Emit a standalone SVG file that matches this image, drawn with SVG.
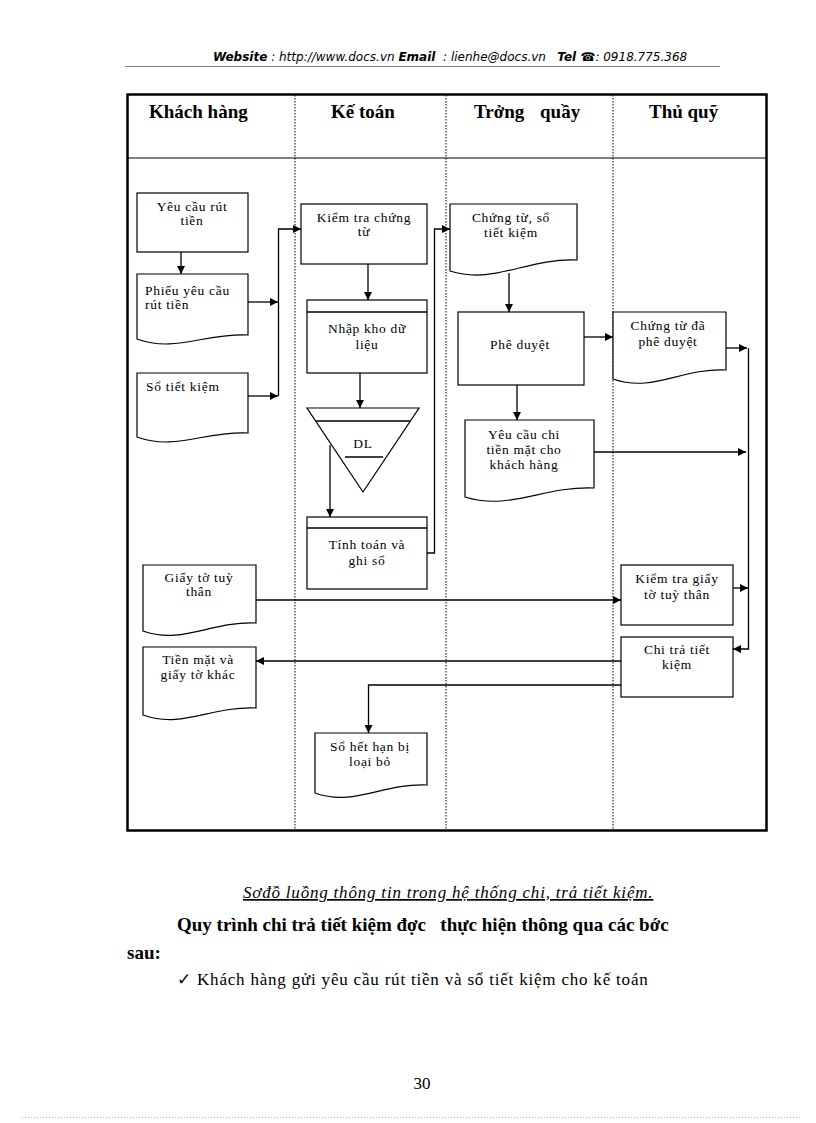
<svg xmlns="http://www.w3.org/2000/svg" width="816" height="1123" viewBox="0 0 816 1123">
<defs>
<marker id="ah" viewBox="0 0 10 10" refX="10" refY="5" markerWidth="8" markerHeight="8" markerUnits="userSpaceOnUse" orient="auto">
<path d="M0,0 L10,5 L0,10 Z" fill="#000"/>
</marker>
<style>
.bx{fill:#fff;stroke:#000;stroke-width:1.2}
.ln{fill:none;stroke:#000;stroke-width:1.3}
.t{font-family:"Liberation Serif","DejaVu Serif",serif;font-size:13.5px;letter-spacing:0.7px;fill:#000;text-anchor:middle}
.tl{font-family:"Liberation Serif","DejaVu Serif",serif;font-size:13.5px;letter-spacing:0.7px;fill:#000}
.hd{font-family:"Liberation Serif","DejaVu Serif",serif;font-size:19px;font-weight:bold;fill:#000}
.lane{stroke:#000;stroke-width:1;stroke-dasharray:1.5,1.5}
</style>
</defs>
<rect width="816" height="1123" fill="#fff"/>

<!-- page header -->
<g id="page-header">
<text x="213" y="61" font-family="'DejaVu Sans','Liberation Sans',sans-serif" font-size="12" font-style="italic" fill="#000" xml:space="preserve"><tspan font-weight="bold">Website</tspan> : http://www.docs.vn <tspan font-weight="bold">Email</tspan>  : lienhe@docs.vn   <tspan font-weight="bold">Tel </tspan><tspan font-weight="bold" font-style="normal">☎</tspan>: 0918.775.368</text>
<line x1="125" y1="66.5" x2="720" y2="66.5" stroke="#888" stroke-width="1"/>
</g>

<!-- frame and lanes -->
<g id="frame">
<rect x="127.5" y="94.5" width="639" height="736" fill="none" stroke="#000" stroke-width="2.5"/>
<line x1="127" y1="158" x2="767" y2="158" stroke="#000" stroke-width="1"/>
<line class="lane" x1="295" y1="95" x2="295" y2="830"/>
<line class="lane" x1="446" y1="95" x2="446" y2="830"/>
<line class="lane" x1="613" y1="95" x2="613" y2="830"/>
<text class="hd" x="149" y="118">Khách hàng</text>
<text class="hd" x="331" y="118">Kế toán</text>
<text class="hd" x="474" y="118">Trởng</text>
<text class="hd" x="540" y="118">quầy</text>
<text class="hd" x="649" y="118">Thủ quỹ</text>
</g>

<!-- connectors -->
<g id="connectors">
<line class="ln" x1="181" y1="252" x2="181" y2="274" marker-end="url(#ah)"/>
<line class="ln" x1="248" y1="302" x2="278" y2="302" marker-end="url(#ah)"/>
<line class="ln" x1="248" y1="396" x2="278" y2="396" marker-end="url(#ah)"/>
<polyline class="ln" points="278.5,396 278.5,229 301,229" marker-end="url(#ah)"/>
<line class="ln" x1="368" y1="264" x2="368" y2="300" marker-end="url(#ah)"/>
<line class="ln" x1="360" y1="373" x2="360" y2="408" marker-end="url(#ah)"/>
<line class="ln" x1="330" y1="445" x2="330" y2="517" marker-end="url(#ah)"/>
<polyline class="ln" points="427,553 434.5,553 434.5,229 450,229" marker-end="url(#ah)"/>
<line class="ln" x1="509" y1="273" x2="509" y2="312" marker-end="url(#ah)"/>
<line class="ln" x1="584" y1="337" x2="613" y2="337" marker-end="url(#ah)"/>
<line class="ln" x1="517" y1="385" x2="517" y2="420" marker-end="url(#ah)"/>
<line class="ln" x1="594" y1="452" x2="746" y2="452" marker-end="url(#ah)"/>
<line class="ln" x1="726" y1="348" x2="747" y2="348" marker-end="url(#ah)"/>
<polyline class="ln" points="748.5,348 748.5,649 733,649" marker-end="url(#ah)"/>
<line class="ln" x1="733" y1="588" x2="748" y2="588" marker-end="url(#ah)"/>
<line class="ln" x1="256" y1="600" x2="621" y2="600" marker-end="url(#ah)"/>
<line class="ln" x1="621" y1="661" x2="256" y2="661" marker-end="url(#ah)"/>
<polyline class="ln" points="621,685 368.5,685 368.5,733" marker-end="url(#ah)"/>
</g>

<!-- Khách hàng lane -->
<g id="n-yeucau">
<rect class="bx" x="137" y="193" width="111" height="59"/>
<text class="t" x="192" y="211">Yêu cầu rút</text>
<text class="t" x="192" y="225">tiền</text>
</g>
<g id="n-phieu">
<path class="bx" d="M137,274 H248 V335 C203.6,333 175.9,353 137,339 Z"/>
<text class="tl" x="145" y="295">Phiếu yêu cầu</text>
<text class="tl" x="145" y="309">rút tiền</text>
</g>
<g id="n-sotietkiem">
<path class="bx" d="M137,373 H248 V433 C203.6,431 175.9,451 137,437 Z"/>
<text class="tl" x="146" y="391">Sổ tiết kiệm</text>
</g>
<g id="n-giayto">
<path class="bx" d="M143,565 H256 V623 C210.8,621 182.6,645 143,631 Z"/>
<text class="t" x="199" y="582">Giấy tờ tuỳ</text>
<text class="t" x="199" y="596">thân</text>
</g>
<g id="n-tienmat">
<path class="bx" d="M143,647 H256 V708 C210.8,706 182.6,729 143,715 Z"/>
<text class="t" x="198" y="664">Tiền mặt và</text>
<text class="t" x="198" y="679">giấy tờ khác</text>
</g>

<!-- Kế toán lane -->
<g id="n-kiemtra">
<rect class="bx" x="301" y="204" width="126" height="60"/>
<text class="t" x="364" y="222">Kiểm tra chứng</text>
<text class="t" x="364" y="236">từ</text>
</g>
<g id="n-nhapkho">
<rect class="bx" x="307" y="300" width="120" height="73"/>
<line class="ln" x1="307" y1="312" x2="427" y2="312" stroke-width="1"/>
<text class="t" x="367" y="333">Nhập kho dữ</text>
<text class="t" x="367" y="349">liệu</text>
</g>
<g id="n-dl">
<path class="bx" d="M307,408 H419 L363,492 Z"/>
<line class="ln" x1="315.7" y1="421" x2="410.3" y2="421" stroke-width="1"/>
<text class="t" x="363" y="448">DL</text>
<line class="ln" x1="345" y1="457" x2="383" y2="457" stroke-width="1"/>
</g>
<g id="n-tinhtoan">
<rect class="bx" x="307" y="517" width="120" height="72"/>
<line class="ln" x1="307" y1="528" x2="427" y2="528" stroke-width="1"/>
<text class="t" x="367" y="549">Tính toán và</text>
<text class="t" x="367" y="565">ghi sổ</text>
</g>
<g id="n-sohethan">
<path class="bx" d="M315,733 H427 V785 C382.2,783 354.2,807 315,793 Z"/>
<text class="t" x="370" y="751">Sổ hết hạn bị</text>
<text class="t" x="370" y="766">loại bỏ</text>
</g>

<!-- Trởng quầy lane -->
<g id="n-chungtu">
<path class="bx" d="M450,204 H577 V260 C526.2,258 494.5,285 450,271 Z"/>
<text class="t" x="511" y="222">Chứng từ, sổ</text>
<text class="t" x="511" y="237">tiết kiệm</text>
</g>
<g id="n-pheduyet">
<rect class="bx" x="458" y="312" width="126" height="73"/>
<text class="t" x="520" y="349">Phê duyệt</text>
</g>
<g id="n-yeucauchi">
<path class="bx" d="M465,420 H594 V488 C542.4,486 510.2,511 465,497 Z"/>
<text class="t" x="524" y="439">Yêu cầu chi</text>
<text class="t" x="524" y="454">tiền mặt cho</text>
<text class="t" x="524" y="469">khách hàng</text>
</g>

<!-- Thủ quỹ lane -->
<g id="n-chungtuda">
<path class="bx" d="M613,312 H726 V370 C680.8,368 652.6,393 613,379 Z"/>
<text class="t" x="668" y="330">Chứng từ đã</text>
<text class="t" x="668" y="346">phê duyệt</text>
</g>
<g id="n-kiemtragiay">
<rect class="bx" x="621" y="565" width="112" height="60"/>
<text class="t" x="677" y="583">Kiểm tra giấy</text>
<text class="t" x="677" y="599">tờ tuỳ thân</text>
</g>
<g id="n-chitra">
<rect class="bx" x="621" y="637" width="112" height="60"/>
<text class="t" x="677" y="654">Chi trả tiết</text>
<text class="t" x="677" y="669">kiệm</text>
</g>

<!-- body text -->
<g id="body-text">
<text x="243" y="898" font-family="'Liberation Serif','DejaVu Serif',serif" font-size="17" letter-spacing="0.8" font-style="italic" text-decoration="underline" fill="#000">Sơđồ luồng thông tin trong hệ thống chi, trả tiết kiệm.</text>
<text x="177" y="931" font-family="'Liberation Serif','DejaVu Serif',serif" font-size="19" font-weight="bold" fill="#000" xml:space="preserve">Quy trình chi trả tiết kiệm đợc   thực hiện thông qua các bớc</text>
<text x="127" y="959" font-family="'Liberation Serif','DejaVu Serif',serif" font-size="19" font-weight="bold" fill="#000">sau:</text>
<text x="177" y="985" font-family="'DejaVu Sans',sans-serif" font-size="17" font-weight="bold" fill="#000">✓</text>
<text x="197" y="985" font-family="'Liberation Serif','DejaVu Serif',serif" font-size="17" letter-spacing="0.8" fill="#000">Khách hàng gửi yêu cầu rút tiền và sổ tiết kiệm cho kế toán</text>
<text x="422" y="1089" font-family="'Liberation Serif','DejaVu Serif',serif" font-size="17" text-anchor="middle" fill="#000">30</text>
<line x1="22" y1="1117.5" x2="800" y2="1117.5" stroke="#aaa" stroke-width="1" stroke-dasharray="1,2"/>
</g>
</svg>
